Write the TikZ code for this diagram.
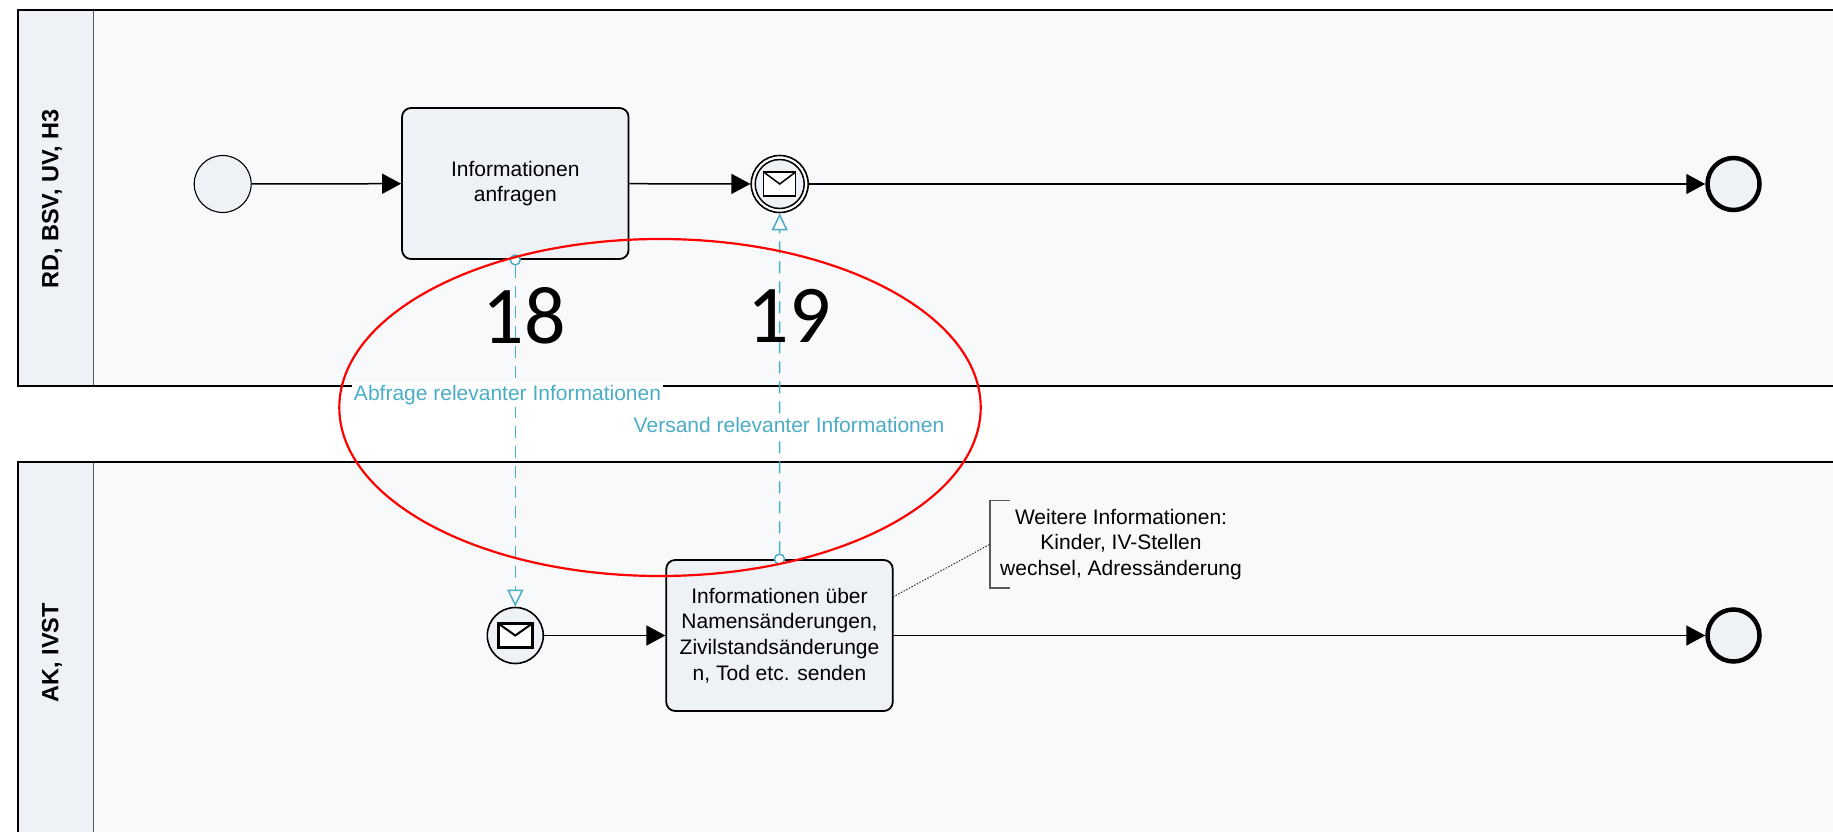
\documentclass[tikz,border=0pt]{standalone}
\usepackage{fontspec}
\setmainfont{Liberation Sans}
\newfontfamily\numfont{Carlito}
\usetikzlibrary{arrows.meta,shapes.geometric}
\definecolor{lanebg}{HTML}{F8F9FB}
\definecolor{headbg}{HTML}{EEF1F6}
\definecolor{taskbg}{HTML}{EEF1F6}
\definecolor{msgblue}{HTML}{4BACC6}
\definecolor{redring}{HTML}{FF0000}
\begin{document}
\begin{tikzpicture}[x=1pt,y=-1pt,
 font=\fontsize{21}{25.6}\selectfont,
 lanefill/.style={fill=lanebg},
 laneborder/.style={draw=black, line width=2pt},
 header/.style={fill=headbg},
 divider/.style={draw=black!65, line width=1.2pt},
 lanelabel/.style={rotate=90, font=\fontsize{23.5}{28}\selectfont\bfseries},
 task/.style={draw=black, line width=1.8pt, fill=taskbg, rounded corners=9pt, minimum width=226.5pt, minimum height=151pt, align=center, inner sep=0pt},
 startev/.style={circle, draw=black, line width=1.1pt, fill=taskbg, minimum size=57pt, inner sep=0pt},
 msgstart/.style={circle, draw=black, line width=1.6pt, fill=taskbg, minimum size=56pt, inner sep=0pt},
 interev/.style={circle, draw=black, line width=1.6pt, fill=white, minimum size=57pt, inner sep=0pt},
 endev/.style={circle, draw=black, line width=4.5pt, fill=taskbg, minimum size=52pt, inner sep=0pt},
 seqflow/.style={draw=black, line width=1.5pt, -{Triangle[length=19pt,width=20pt]}},
 msgflow/.style={draw=msgblue, line width=1.5pt, dash pattern=on 12pt off 8pt, -{Triangle[open, length=17pt, width=16pt]}},
 msgsrc/.style={circle, draw=msgblue, line width=1.5pt, fill=white, minimum size=10pt, inner sep=0pt},
 msglabel/.style={fill=white, text=msgblue, inner sep=2pt},
 numlabel/.style={font=\numfont\fontsize{82}{90}\selectfont, inner sep=0pt},
 annot/.style={align=center, inner xsep=10pt, inner ysep=0pt, minimum height=87pt},
 bracket/.style={draw=black!65, line width=1.5pt},
 ring/.style={draw=redring, line width=2.2pt},
 envelope/.style={draw=black, line width=1.5pt, fill=white},
 envthick/.style={draw=black, line width=2.4pt, fill=white}
]
\useasboundingbox (0,0) rectangle (1833,832);
\clip (0,0) rectangle (1833,832);
\fill[white] (0,0) rectangle (1833,832);

% lanes
\fill[lanefill] (18,10) rectangle (1845,386);
\fill[header] (18,10) rectangle (93.5,386);
\draw[divider] (93.5,10) -- (93.5,386);
\draw[laneborder] (18,10) rectangle (1845,386);
\fill[lanefill] (18,462) rectangle (1845,845);
\fill[header] (18,462) rectangle (93.5,845);
\draw[divider] (93.5,462) -- (93.5,845);
\draw[laneborder] (18,462) rectangle (1845,845);
\node[lanelabel] (lane1) at (52,199) {RD, BSV, UV, H3};
\node[lanelabel] (lane2) at (52,652.6) {AK, IVST};

% top lane
\node[startev] (s1) at (222.7,184) {};
\node[task] (t1) at (515.3,183.5) {Informationen\\anfragen};
\node[interev] (i1) at (779.7,184) {};
\fill[taskbg, draw=black, line width=1.5pt] (i1.center) circle[radius=24.5pt];
\begin{scope}[shift={(i1.center)}]
 \draw[envelope] (-16,-12) rectangle (16,12);
 \draw[black, line width=1.5pt] (-16,-12) -- (0,0) -- (16,-12);
\end{scope}
\node[endev] (e1) at (1733.5,184) {};

\draw[seqflow] (s1) -- (t1);
\draw[seqflow] (t1) -- (i1);
\draw[seqflow] (i1) -- (e1);

% bottom lane
\node[msgstart] (m1) at (515.3,635.5) {};
\begin{scope}[shift={(m1.center)}]
 \draw[envthick] (-17,-12) rectangle (17,12);
 \draw[black, line width=2pt] (-17,-12) -- (0,0) -- (17,-12);
\end{scope}
\node[task] (t2) at (779.5,635.5) {Informationen über\\Namensänderungen,\\Zivilstandsänderunge\\n, Tod etc. senden};
\node[endev] (e2) at (1733.5,635.5) {};

\draw[seqflow] (m1) -- (t2);
\draw[seqflow] (t2) -- (e2);

% annotation
\node[annot, anchor=west] (a1) at (990,544.2) {Weitere Informationen:\\Kinder, IV-Stellen\\wechsel, Adressänderung};
\draw[bracket] ([xshift=20pt]a1.north west) -- (a1.north west) -- (a1.south west) -- ([xshift=20pt]a1.south west);
\coordinate (t2a) at (893,597);
\draw[black!80, line width=1pt, dash pattern=on 1.5pt off 1.5pt] (t2a) -- (a1.west);

% message flows
\node[msgsrc] (ms1) at (t1.south) {};
\node[msgsrc] (ms2) at (t2.north) {};
\draw[msgflow] (ms1) -- (m1);
\draw[msgflow] (ms2) -- (i1);
\node[msglabel] (l1) at (507.5,395) {Abfrage relevanter Informationen};
\node[msglabel] (l2) at (789,425) {Versand relevanter Informationen};

% numbers
\node[numlabel] (n18) at (524,316) {18};
\node[numlabel] (n19) at (789,316) {19};

% red ring
\draw[ring] (660,407.5) ellipse[x radius=320.7pt, y radius=168.5pt];
\end{tikzpicture}
\end{document}
